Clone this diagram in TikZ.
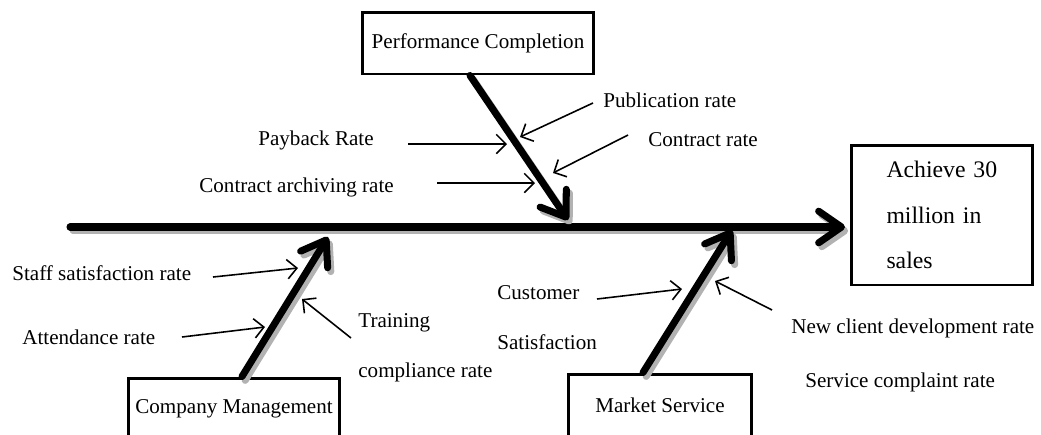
\documentclass[tikz,border=0pt]{standalone}
\usepackage{fontspec}
\setmainfont{Liberation Serif}
\usetikzlibrary{arrows.meta,positioning}

\tikzset{
  box/.style={draw, line width=1.7pt, inner sep=0pt, font=\fontsize{12}{14}\selectfont},
  bone/.style={line width=4pt, line cap=round,
    -{Straight Barb[length=13pt,width=18pt,round]}},
  bone shadow/.style={bone, draw=gray!60},
  cause/.style={line width=0.9pt, -{Straight Barb[length=5.5pt,width=11pt]}},
  lbl/.style={anchor=west, inner sep=0pt, font=\fontsize{12}{14}\selectfont}
}

\begin{document}
\begin{tikzpicture}[x=0.02cm, y=-0.02cm]
  \useasboundingbox (0,0) rectangle (1041,434);

  % category boxes and the goal
  \node[box, minimum width=4.64cm, minimum height=1.24cm] (perf) at (478,43) {Performance Completion};
  \node[box, minimum width=4.24cm, minimum height=1.24cm] (mgmt) at (234,409) {Company Management};
  \node[box, minimum width=3.68cm, minimum height=1.24cm] (mkt)  at (660,405) {Market Service};
  \node[box, minimum width=3.62cm, minimum height=2.8cm, align=left, text width=2.22cm,
        inner xsep=0.7cm, font=\fontsize{13.5}{26}\selectfont] (goal) at (942,215)
        {Achieve 30\\million in\\sales};

  % spine and bones
  \coordinate (tail) at (70,227);
  \coordinate (head) at (845,227);
  \coordinate (perf-s) at ([xshift=-0.16cm]perf.south);
  \coordinate (mgmt-s) at ([xshift=0.16cm]mgmt.north);
  \coordinate (mkt-s)  at ([xshift=-0.34cm]mkt.north);
  \coordinate (perf-tip) at (568,220);
  \coordinate (mgmt-tip) at (328,237);
  \coordinate (mkt-tip)  at (732,230);

  \foreach \s/\e in {tail/head, perf-s/perf-tip, mgmt-s/mgmt-tip, mkt-s/mkt-tip} {
    \draw[bone shadow] ([shift={(1.8pt,-2.2pt)}]\s) -- ([shift={(1.8pt,-2.2pt)}]\e);
    \draw[bone] (\s) -- (\e);
  }

  % causes of performance completion
  \node[lbl] (pub)  at (603,100) {Publication rate};
  \node[lbl] (pay)  at (258,140) {Payback Rate};
  \node[lbl] (con)  at (648,140) {Contract rate};
  \node[lbl] (arch) at (199,187) {Contract archiving rate};

  \coordinate (pub-s)  at (593,103); \coordinate (pub-e)  at (520,137);
  \coordinate (pay-s)  at (408,144); \coordinate (pay-e)  at (507,144);
  \coordinate (con-s)  at (628,135); \coordinate (con-e)  at (553,173);
  \coordinate (arch-s) at (437,183); \coordinate (arch-e) at (535,183);

  \draw[cause] (pub-s) -- (pub-e);
  \draw[cause] (pay-s) -- (pay-e);
  \draw[cause] (con-s) -- (con-e);
  \draw[cause] (arch-s) -- (arch-e);

  % causes of company management
  \node[lbl] (staff) at (12,273) {Staff satisfaction rate};
  \node[lbl] (att)   at (22,337) {Attendance rate};
  \node[lbl] (trn)   at (358,323) {Training};
  \node[lbl] (trn2)  at (358,372) {compliance rate};

  \coordinate (staff-s) at (213,277); \coordinate (staff-e) at (298,268);
  \coordinate (att-s)   at (182,337); \coordinate (att-e)   at (265,327);
  \coordinate (trn-s)   at (351,338); \coordinate (trn-e)   at (302,299);

  \draw[cause] (staff-s) -- (staff-e);
  \draw[cause] (att-s) -- (att-e);
  \draw[cause] (trn-s) -- (trn-e);

  % causes of market service
  \node[lbl] (cust)  at (497,293) {Customer};
  \node[lbl] (cust2) at (497,342) {Satisfaction};
  \node[lbl] (newc)  at (791,328) {New client development rate};
  \node[lbl] (comp)  at (805,382) {Service complaint rate};

  \coordinate (cust-s) at (597,299); \coordinate (cust-e) at (682,289);
  \coordinate (newc-s) at (772,310); \coordinate (newc-e) at (715,281);

  \draw[cause] (cust-s) -- (cust-e);
  \draw[cause] (newc-s) -- (newc-e);
\end{tikzpicture}
\end{document}
